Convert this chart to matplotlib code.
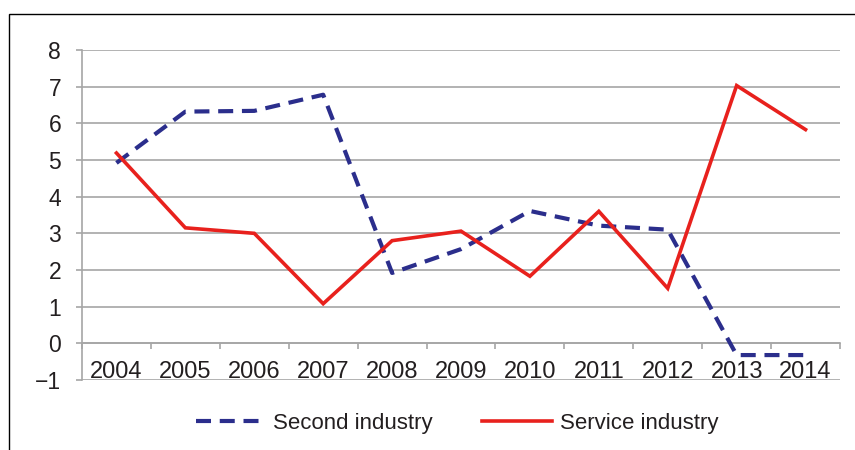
import numpy as np
import matplotlib.pyplot as plt
from matplotlib.patches import Rectangle

years = ['2004', '2005', '2006', '2007', '2008', '2009', '2010', '2011', '2012', '2013', '2014']
second_industry = [4.92, 6.32, 6.34, 6.78, 1.92, 2.57, 3.61, 3.21, 3.10, -0.32, -0.32]
service_industry = [5.19, 3.15, 3.00, 1.08, 2.80, 3.06, 1.83, 3.60, 1.50, 7.03, 5.83]
y_ticks = list(range(-1, 9))

plt.rcParams['font.family'] = ['Liberation Sans', 'DejaVu Sans']
grid_col = '#A6A6A6'
text_col = '#231F20'

fig = plt.figure(figsize=(8.55, 4.5), dpi=100)
ax = fig.add_axes([82 / 855, 1 - 380 / 450, 758 / 855, 330 / 450])

x = np.arange(len(years))
ax.plot(x, second_industry, color='#2B2E8C', lw=3, dashes=(3.6, 2.1),
        label='Second industry', zorder=3)
ax.plot(x, service_industry, color='#E8211D', lw=2.6, label='Service industry',
        solid_joinstyle='miter', zorder=4)

ax.set_xlim(-0.5, len(years) - 0.5)
ax.set_ylim(-1, 8)
ax.set_yticks(y_ticks)
ax.yaxis.grid(True, color=grid_col, lw=1.2)
ax.set_axisbelow(True)

for s in ['top', 'right']:
    ax.spines[s].set_visible(False)
ax.spines['left'].set_color(grid_col)
ax.spines['left'].set_linewidth(1.2)
ax.spines['bottom'].set_position(('data', 0))
ax.spines['bottom'].set_color(grid_col)
ax.spines['bottom'].set_linewidth(1.2)

# boundary ticks on the zero line, labels at the category centres
ax.set_xticks(np.arange(-0.5, len(years), 1.0))
ax.set_xticklabels([])
ax.set_xticks(x, minor=True)
ax.set_xticklabels(years, minor=True)
ax.tick_params(axis='x', which='major', length=4.5, width=1.2, color=grid_col, direction='out')
ax.tick_params(axis='x', which='minor', length=0, pad=13, labelsize=17, labelcolor=text_col)
ax.tick_params(axis='y', length=4.5, width=1.2, color=grid_col, pad=10.5,
               labelsize=16.5, labelcolor=text_col)

fig.legend(loc='center', bbox_to_anchor=(457 / 855, 1 - 423 / 450), ncol=2, frameon=False,
           fontsize=16, handlelength=3.15, handletextpad=0.35, columnspacing=2.2,
           labelcolor=text_col)

fig.patches.append(Rectangle((9 / 855, -0.1), 1.2, 0.1 + 1 - 14 / 450,
                             transform=fig.transFigure, fill=False,
                             edgecolor='black', lw=1.0))

fig.savefig('out.png', dpi=100)
